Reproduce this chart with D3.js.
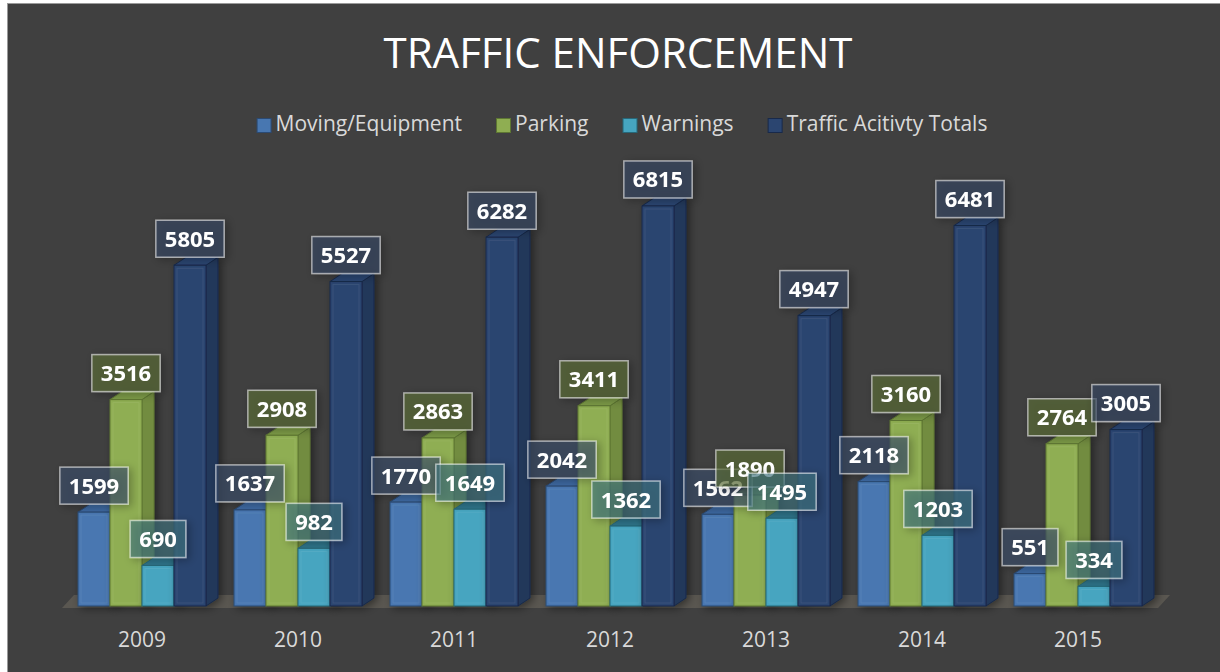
<!DOCTYPE html>
<html>
<head>
<meta charset="utf-8">
<script src="https://cdn.jsdelivr.net/npm/d3@7"></script>
<style>
  body { margin: 0; background: #fff; }
  svg { display: block; font-family: "Open Sans", sans-serif; }
</style>
</head>
<body>
<svg width="1220" height="672"></svg>
<script>
// values
var years = ["2009", "2010", "2011", "2012", "2013", "2014", "2015"];
var moving = [1599, 1637, 1770, 2042, 1562, 2118, 551];
var parking = [3516, 2908, 2863, 3411, 1890, 3160, 2764];
var warnings = [690, 982, 1649, 1362, 1495, 1203, 334];
var totals = [5805, 5527, 6282, 6815, 4947, 6481, 3005];
var seriesNames = ["Moving/Equipment", "Parking", "Warnings", "Traffic Acitivty Totals"];

var seriesValues = [moving, parking, warnings, totals];

// colours: front, side, top, edge, label box
var colors = [
  {front: "#4877b1", side: "#395f8e", top: "#3d68a0", edge: "#2b4a73", label: "#3e506d"},
  {front: "#8fae52", side: "#728c40", top: "#7c9a46", edge: "#5e7733", label: "#5e6f39"},
  {front: "#46a5c0", side: "#35839a", top: "#2f7389", edge: "#276879", label: "#3f7580"},
  {front: "#2b4570", side: "#22375a", top: "#2a4470", edge: "#18294a", label: "#374865"}
];

var svg = d3.select("svg"),
    floorY = 606,
    dx = 12, dy = -8;

var x0 = d3.scaleBand().domain(years).range([64, 1156]),
    x1 = d3.scaleBand().domain(d3.range(4)).range([14, 142]),
    y = d3.scaleLinear().domain([0, 7000]).range([floorY, floorY - 7000 * 0.0587]);

var defs = svg.append("defs");
var shadow = defs.append("filter").attr("id", "shadow")
    .attr("x", "-30%").attr("y", "-30%").attr("width", "160%").attr("height", "160%");
shadow.append("feDropShadow")
    .attr("dx", 3).attr("dy", 2).attr("stdDeviation", 4)
    .attr("flood-color", "#000").attr("flood-opacity", 0.45);

// chart area
svg.append("rect")
    .attr("x", 7.5).attr("y", 3.5)
    .attr("width", 1230).attr("height", 690)
    .attr("fill", "#404040")
    .attr("stroke", "#9a9a9a");

svg.append("text")
    .attr("x", 618).attr("y", 68)
    .attr("text-anchor", "middle")
    .attr("fill", "#ffffff")
    .style("font-size", "42px")
    .text("TRAFFIC ENFORCEMENT");

// legend, laid out from measured widths
var legend = svg.append("g");
var lx = 0;
seriesNames.forEach(function(name, i) {
  var item = legend.append("g").attr("transform", "translate(" + lx + ",0)");
  item.append("rect")
      .attr("x", 0.5).attr("y", 118.5)
      .attr("width", 14).attr("height", 14)
      .attr("fill", colors[i].front)
      .attr("stroke", colors[i].edge);
  var t = item.append("text")
      .attr("x", 19).attr("y", 131)
      .attr("fill", "#d9d9d9")
      .style("font-size", "21px")
      .text(name);
  lx += 19 + t.node().getComputedTextLength() + 34;
});
lx -= 34;
legend.attr("transform", "translate(" + (622 - lx / 2) + ",0)");

// floor
var x0s = x0.range()[0] - 2, x0e = x0.range()[1] + 2;
svg.append("polygon")
    .attr("points", [[x0s, floorY + 2], [x0e, floorY + 2], [x0e + dx, floorY + dy - 3], [x0s + dx, floorY + dy - 3]].join(" "))
    .attr("fill", "#5a5751");

// bars
var groups = svg.selectAll(".year")
  .data(years)
  .enter().append("g")
    .attr("class", "year")
    .attr("transform", function(d) { return "translate(" + x0(d) + ",0)"; });

groups.each(function(year, yi) {
  var g = d3.select(this);
  seriesValues.forEach(function(vals, si) {
    var v = vals[yi],
        bx = x1(si), w = x1.bandwidth(),
        top = y(v), bot = y(0),
        c = colors[si];
    var bar = g.append("g").attr("filter", "url(#shadow)");
    bar.append("polygon")
        .attr("points", [[bx + w, top], [bx + w + dx, top + dy], [bx + w + dx, bot + dy], [bx + w, bot]].join(" "))
        .attr("fill", c.side).attr("stroke", c.edge).attr("stroke-width", 1);
    bar.append("polygon")
        .attr("points", [[bx, top], [bx + dx, top + dy], [bx + w + dx, top + dy], [bx + w, top]].join(" "))
        .attr("fill", c.top).attr("stroke", c.edge).attr("stroke-width", 1);
    bar.append("rect")
        .attr("x", bx).attr("y", top)
        .attr("width", w).attr("height", bot - top)
        .attr("fill", c.front).attr("stroke", c.edge).attr("stroke-width", 1);
    // faint bevel highlight
    bar.append("rect")
        .attr("x", bx + 3).attr("y", top + 3)
        .attr("width", w - 6).attr("height", Math.max(0, bot - top - 6))
        .attr("fill", "none").attr("stroke", "#ffffff").attr("stroke-opacity", 0.08);
  });
});

// data labels, series by series so later ones sit on top
seriesValues.forEach(function(vals, si) {
  years.forEach(function(year, yi) {
    var v = vals[yi],
        cx = x0(year) + x1(si) + x1.bandwidth() / 2,
        by = y(v) - 8 - 37;
    var lab = svg.append("g").attr("filter", "url(#shadow)");
    var box = lab.append("rect");
    var t = lab.append("text")
        .attr("x", cx).attr("y", by + 26.5)
        .attr("text-anchor", "middle")
        .attr("fill", "#ffffff")
        .style("font-size", "22px")
        .style("font-weight", "bold")
        .text(v);
    var tw = t.node().getComputedTextLength() + 18;
    box.attr("x", cx - tw / 2).attr("y", by)
        .attr("width", tw).attr("height", 37)
        .attr("fill", colors[si].label).attr("fill-opacity", 0.6)
        .attr("stroke", "#ffffff").attr("stroke-opacity", 0.55).attr("stroke-width", 1.5);
  });
});

// category axis
var axis = svg.append("g")
    .attr("transform", "translate(0," + floorY + ")")
    .call(d3.axisBottom(x0).tickSize(0).tickPadding(26));
axis.select(".domain").remove();
axis.selectAll("text")
    .attr("fill", "#d9d9d9")
    .style("font-family", "\"Open Sans\", sans-serif")
    .style("font-size", "21px");
</script>
</body>
</html>
